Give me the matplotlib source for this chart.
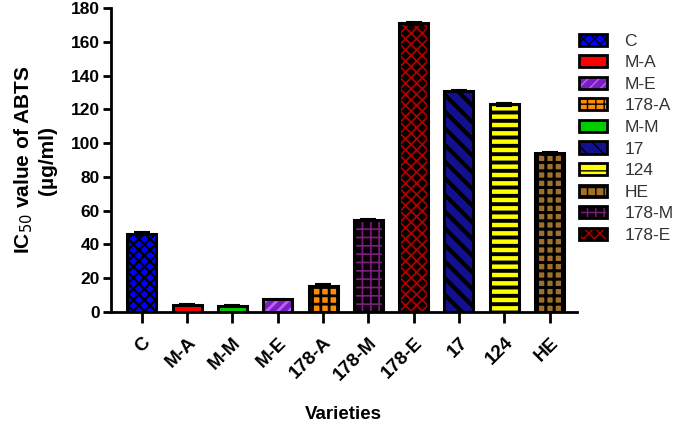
import matplotlib.pyplot as plt
from matplotlib.patches import Patch

plt.rcParams['font.family'] = ['Liberation Sans', 'DejaVu Sans']

varieties = ["C", "M-A", "M-M", "M-E", "178-A", "178-M", "178-E", "17", "124", "HE"]
ic50 = [46.5, 4.0, 3.5, 7.5, 15.5, 54.5, 171.0, 131.0, 123.0, 94.0]
errors = [0.8, 0.6, 0.5, 0.5, 0.8, 0.7, 0.8, 0.6, 0.7, 0.8]

# face colour, hatch colour, hatch, hatch line width
styles = {
    "C": ("#0000FF", "black", "xxx", 1.6),
    "M-A": ("#FF0000", "black", "", 1),
    "M-M": ("#00CC00", "black", "", 1),
    "M-E": ("#7A1FC0", "#C060FF", "///", 2),
    "178-A": ("#FF8C00", "black", "++", 2),
    "178-M": ("#0A0008", "#7A1F7A", "++", 1.2),
    "178-E": ("#0A0000", "#B00000", "xxx", 1.2),
    "17": ("#101090", "black", "\\\\", 3),
    "124": ("#FFFF00", "black", "--", 2.8),
    "HE": ("#A0702A", "black", "++", 2.2),
}
legend_order = ["C", "M-A", "M-E", "178-A", "M-M", "17", "124", "HE", "178-M", "178-E"]

fig = plt.figure(figsize=(6.85, 4.28), dpi=100)
ax = fig.add_axes([0.162, 0.271, 0.68, 0.71])

x = list(range(len(varieties)))
for i, name in enumerate(varieties):
    face, hcol, hatch, hlw = styles[name]
    with plt.rc_context({"hatch.linewidth": hlw}):
        ax.bar(i, ic50[i], width=0.64, color=face, edgecolor=hcol, hatch=hatch, linewidth=0, zorder=2)
    ax.bar(i, ic50[i], width=0.64, fill=False, edgecolor="black", linewidth=2.2, zorder=3)
ax.errorbar(x, ic50, yerr=errors, fmt="none", ecolor="black", capsize=6, elinewidth=1.5, capthick=1.5, zorder=4)

ax.set_xlim(-0.68, 9.6)
ax.set_ylim(0, 180)
ax.set_yticks(range(0, 181, 20))
ax.set_xticks(x)
ax.set_xticklabels(varieties, rotation=45, ha="right", rotation_mode="anchor", fontsize=13.5, fontweight="bold")
for lab in ax.get_yticklabels():
    lab.set_fontweight("bold")
    lab.set_fontsize(12.5)

for side in ["top", "right"]:
    ax.spines[side].set_visible(False)
for side in ["left", "bottom"]:
    ax.spines[side].set_linewidth(2)
ax.tick_params(axis="y", length=6, width=2, pad=2)
ax.tick_params(axis="x", length=8, width=2, pad=8)

ax.set_ylabel("IC$_{50}$ value of ABTS\n(µg/ml)", fontsize=15, fontweight="bold", labelpad=10)
ax.set_xlabel("Varieties", fontsize=13.5, fontweight="bold", labelpad=16)

handles = []
for name in legend_order:
    face, hcol, hatch, hlw = styles[name]
    with plt.rc_context({"hatch.linewidth": min(hlw, 1.5)}):
        inner = Patch(facecolor=face, edgecolor=hcol, hatch=hatch, linewidth=0)
    outer = Patch(fill=False, edgecolor="black", linewidth=2)
    handles.append((inner, outer))
leg = fig.legend(handles, legend_order, loc="upper left", bbox_to_anchor=(0.823, 0.958), frameon=False,
                 fontsize=12.5, handlelength=1.6, handleheight=0.7, labelspacing=0.37, handletextpad=1.0)
for t in leg.get_texts():
    t.set_color("#333333")

fig.savefig("out.png", dpi=100)
